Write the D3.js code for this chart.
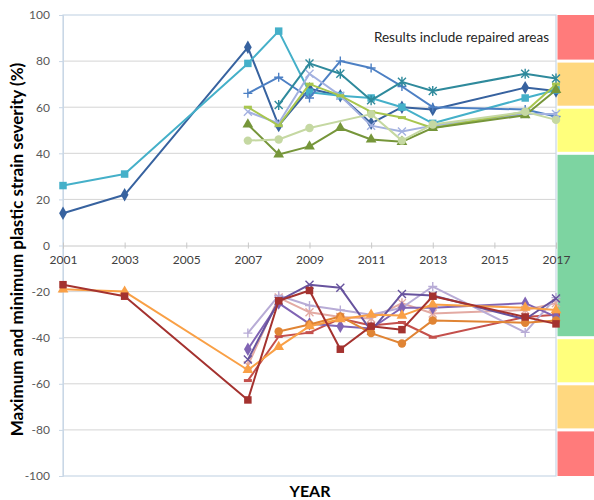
<!DOCTYPE html>
<html>
<head>
<meta charset="utf-8">
<script src="https://cdn.jsdelivr.net/npm/d3@7"></script>
<style>
  html, body { margin: 0; padding: 0; background: #fff; }
  svg { display: block; font-family: Lato, "Liberation Sans", sans-serif; }
</style>
</head>
<body>
<svg id="chart" width="594" height="500"></svg>
<script>
// Survey years shared by every series
const years = [2001, 2003, 2007, 2008, 2009, 2010, 2011, 2012, 2013, 2016, 2017];

// Maximum plastic strain severity (%) per measured location
const maxDiamond  = [14, 22, 86, 52, 68, 65, 53, 60, 59, 68.5, 67];
const maxSquare   = [26, 31, 79, 93, 66.5, 65, 64, 60, 53, 64, 67.5];
const maxPlus     = [null, null, 66, 73, 64, 80, 77, 69, 60, 59, 56];
const maxStar     = [null, null, null, 61, 79, 74.5, 63, 71, 67, 74.5, 72.5];
const maxCross    = [null, null, 58, 53, 74.5, 65, 52, 49.5, 52, 57, 57];
const maxDash     = [null, null, 60, 52, 70, 65, 58, 55.5, 51, 58, 70];
const maxTriangle = [null, null, 52.5, 39.5, 43, 51, 46, 45, 51, 56.5, 67.5];
const maxCircle   = [null, null, 45.5, 46, 51, null, 57, 45.5, 52.5, 58, 54.5];

// Minimum plastic strain severity (%) per measured location
const minSquare   = [-17, -22, -67, -24, -19.5, -45, -35, -36.5, -22, -31, -34];
const minTriangle = [-19, -20, -54, -44, -35, -32, -30, -30.4, -25.6, -27, -28];
const minCircle   = [null, null, null, -37.3, -34.3, -30.8, -38, -42.5, -32.5, -33.5, -32.5];
const minCross    = [null, null, -49.5, -24, -17, -18.3, -37, -21, -21.7, -32, -23];
const minDiamond  = [null, null, -45, -25, -34, -35, -36, -27, -27, -25, -31];
const minPlus     = [null, null, -38, -21.7, -26, -28, -30, -27, -17.8, -37.7, -22.6];
const minStar     = [null, null, -52, -22.6, -29, -31, -31.7, -25, -29.5, -28, -25];
const minDash     = [null, null, -58.6, -39.5, -37.8, -31.7, -34.7, -33.4, -39.8, -31, -30];

// Axis ticks
const xTicks = [2001, 2003, 2005, 2007, 2009, 2011, 2013, 2015, 2017];
const yTicks = [-100, -80, -60, -40, -20, 0, 20, 40, 60, 80, 100];

// Severity bands drawn beside the plot (value ranges)
const bandLow  = [80, 60, 40, -40, -60, -80, -100];
const bandHigh = [100, 80, 60, 40, -40, -60, -80];
const bandColors = ["#ff7b7b", "#ffd87f", "#ffff7c", "#7dd4a1", "#ffff7c", "#ffd87f", "#ff7b7b"];

const series = [
  { values: maxDiamond,  color: "#37629f", marker: "diamond" },
  { values: maxSquare,   color: "#45b0c9", marker: "square" },
  { values: maxPlus,     color: "#4d80c4", marker: "plus" },
  { values: maxStar,     color: "#2f8a9c", marker: "star" },
  { values: maxCross,    color: "#a3b1e0", marker: "cross" },
  { values: maxDash,     color: "#a8c64f", marker: "dash" },
  { values: maxTriangle, color: "#76963a", marker: "triangle" },
  { values: maxCircle,   color: "#c5d8a2", marker: "circle" },
  { values: minDash,     color: "#c4504c", marker: "dash" },
  { values: minStar,     color: "#e3aaa3", marker: "star" },
  { values: minPlus,     color: "#b8acd6", marker: "plus" },
  { values: minDiamond,  color: "#8064b4", marker: "diamond" },
  { values: minCross,    color: "#67539e", marker: "cross" },
  { values: minCircle,   color: "#e08434", marker: "circle" },
  { values: minTriangle, color: "#f9a046", marker: "triangle" },
  { values: minSquare,   color: "#a4322f", marker: "square" }
];

const svg = d3.select("#chart");
const plotLeft = 63, plotRight = 556, plotTop = 15, plotBottom = 476;

const x = d3.scaleLinear().domain([2001, 2017]).range([plotLeft, plotRight]);
const y = d3.scaleLinear().domain([-100, 100]).range([plotBottom, plotTop]);

// Severity bands
svg.append("g").selectAll("rect")
  .data(bandLow)
  .join("rect")
  .attr("x", plotRight + 1.5)
  .attr("width", 594 - plotRight)
  .attr("y", (d, i) => y(bandHigh[i]) + (i === 0 ? 0 : 1.5))
  .attr("height", (d, i) => y(d) - y(bandHigh[i]) - (i === 0 || i === bandLow.length - 1 ? 1.5 : 3))
  .attr("fill", (d, i) => bandColors[i]);

// Horizontal gridlines
svg.append("g").selectAll("line")
  .data(yTicks.filter(t => t !== 0 && t !== -100 && t !== 100))
  .join("line")
  .attr("x1", plotLeft).attr("x2", plotRight)
  .attr("y1", d => y(d)).attr("y2", d => y(d))
  .attr("stroke", "#d4d4d4").attr("stroke-width", 1);

// Plot frame
svg.append("rect")
  .attr("x", plotLeft).attr("y", plotTop)
  .attr("width", plotRight - plotLeft).attr("height", plotBottom - plotTop)
  .attr("fill", "none").attr("stroke", "#c9d7e6").attr("stroke-width", 1.2);

// Y axis labels with short ticks (plain hyphen for negatives)
const yAxis = d3.axisLeft(y).tickValues(yTicks).tickFormat(d => String(d)).tickSize(4).tickPadding(9);
const gy = svg.append("g").attr("transform", `translate(${plotLeft},0)`).call(yAxis);
gy.select(".domain").attr("stroke", "#c9d7e6");
gy.selectAll(".tick line").attr("stroke", "#c9d7e6");
gy.selectAll(".tick text").attr("fill", "#595959").style("font-size", "12px")
  .style("font-family", "Lato, 'Liberation Sans', sans-serif");

// X axis on the zero line
const xAxis = d3.axisBottom(x).tickValues(xTicks).tickFormat(d => String(d)).tickSize(3).tickPadding(7);
const gx = svg.append("g").attr("transform", `translate(0,${y(0)})`).call(xAxis);
gx.select(".domain").attr("stroke", "#c8c8c8");
gx.selectAll(".tick line").attr("stroke", "#c8c8c8").attr("y1", -3);
gx.selectAll(".tick text").attr("fill", "#404040").style("font-size", "12px")
  .style("font-family", "Lato, 'Liberation Sans', sans-serif");

// Lines and markers
const line = d3.line()
  .defined(d => d.v !== null)
  .x(d => x(d.year)).y(d => y(d.v));

const symbolPath = {
  diamond: d3.symbol(d3.symbolDiamond, 52)(),
  square: d3.symbol(d3.symbolSquare, 56)(),
  triangle: d3.symbol(d3.symbolTriangle, 50)(),
  circle: d3.symbol(d3.symbolCircle, 56)()
};

series.forEach(s => {
  const pts = years.map((year, i) => ({ year, v: s.values[i] })).filter(p => p.v !== null);
  const g = svg.append("g");
  g.append("path")
    .datum(pts)
    .attr("d", line)
    .attr("fill", "none")
    .attr("stroke", s.color)
    .attr("stroke-width", 2)
    .attr("stroke-linejoin", "round");

  const m = g.selectAll("g.m").data(pts).join("g")
    .attr("transform", p => `translate(${x(p.year)},${y(p.v)})`);

  if (symbolPath[s.marker]) {
    m.append("path").attr("d", symbolPath[s.marker]).attr("fill", s.color);
  } else if (s.marker === "plus") {
    m.append("path").attr("d", "M-4.5,0H4.5M0,-4.5V4.5")
      .attr("stroke", s.color).attr("stroke-width", 1.4);
  } else if (s.marker === "cross") {
    m.append("path").attr("d", "M-4,-4L4,4M-4,4L4,-4")
      .attr("stroke", s.color).attr("stroke-width", 1.4);
  } else if (s.marker === "star") {
    m.append("path").attr("d", "M-4,-4L4,4M-4,4L4,-4M0,-5V5")
      .attr("stroke", s.color).attr("stroke-width", 1.4);
  } else if (s.marker === "dash") {
    m.append("path").attr("d", "M-4,0H4")
      .attr("stroke", s.color).attr("stroke-width", 3);
  }
});

// Note in the upper right of the plot
svg.append("text")
  .attr("x", 549).attr("y", 42)
  .attr("text-anchor", "end")
  .attr("fill", "#262626")
  .style("font-size", "13.5px")
  .text("Results include repaired areas");

// Axis titles
svg.append("text")
  .attr("transform", `translate(23,${(plotTop + plotBottom) / 2 + 4}) rotate(-90)`)
  .attr("text-anchor", "middle")
  .attr("fill", "#000")
  .style("font-size", "17px").style("font-weight", "bold")
  .text("Maximum and minimum plastic strain severity (%)");

svg.append("text")
  .attr("x", 310).attr("y", 497)
  .attr("text-anchor", "middle")
  .attr("fill", "#000")
  .style("font-size", "16px").style("font-weight", "bold")
  .text("YEAR");
</script>
</body>
</html>
